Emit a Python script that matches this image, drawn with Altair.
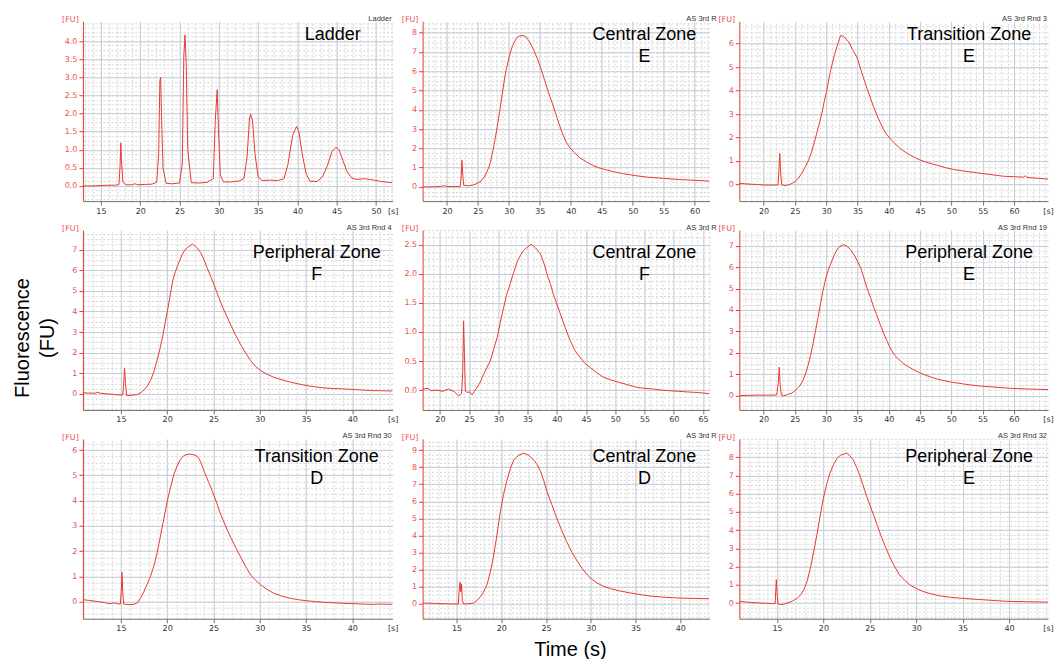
import math
import altair as alt
import pandas as pd

# ---------------- data (time [s], fluorescence [FU]) ----------------
LADDER = [(12.7, 0.0), (14.0, 0.0), (15.0, 0.01), (16.0, 0.02), (17.0, 0.02), (17.3, 0.04), (17.45, 0.6),
          (17.53, 1.19), (17.62, 0.7), (17.8, 0.1), (18.2, 0.03), (19.0, 0.03), (19.3, 0.06), (19.7, 0.03),
          (20.5, 0.04), (21.5, 0.05), (22.1, 0.1), (22.35, 0.9), (22.5, 2.9), (22.6, 3.0), (22.7, 2.0),
          (22.9, 0.5), (23.3, 0.07), (24.0, 0.06), (25.0, 0.08), (25.35, 0.6), (25.55, 3.6), (25.7, 4.17),
          (25.85, 3.4), (26.05, 1.0), (26.5, 0.09), (27.5, 0.08), (28.5, 0.1), (29.3, 0.2), (29.55, 1.8),
          (29.8, 2.66), (29.95, 1.6), (30.2, 0.3), (30.6, 0.11), (31.5, 0.11), (32.5, 0.13), (33.2, 0.2),
          (33.6, 0.8), (33.9, 1.85), (34.05, 1.98), (34.3, 1.8), (34.6, 0.9), (35.0, 0.25), (35.5, 0.15),
          (36.5, 0.16), (37.5, 0.15), (38.3, 0.2), (38.8, 0.6), (39.4, 1.4), (39.9, 1.65), (40.2, 1.5),
          (40.6, 0.9), (41.1, 0.35), (41.6, 0.13), (42.5, 0.12), (43.2, 0.25), (43.8, 0.55), (44.4, 0.95),
          (44.9, 1.07), (45.3, 1.0), (45.8, 0.7), (46.3, 0.4), (46.9, 0.22), (47.5, 0.18), (48.5, 0.2),
          (49.5, 0.17), (50.5, 0.13), (51.5, 0.1), (52.1, 0.09)]

CENTRAL_E = [(16.06, 0.0), (17.0, 0.0), (18.0, 0.01), (19.0, 0.02), (19.5, 0.06), (20.0, 0.02), (21.0, 0.02),
             (22.15, 0.02), (22.3, 0.6), (22.42, 1.38), (22.55, 0.6), (22.7, 0.08), (23.5, 0.05), (24.3, 0.1),
             (25.0, 0.2), (25.5, 0.3), (26.0, 0.5), (26.5, 0.8), (27.0, 1.25), (27.5, 2.0), (28.0, 2.9),
             (28.5, 3.9), (29.0, 5.0), (29.5, 6.0), (30.0, 6.7), (30.5, 7.25), (31.0, 7.6), (31.5, 7.8),
             (32.1, 7.86), (32.7, 7.8), (33.3, 7.55), (34.0, 7.1), (34.6, 6.65), (35.1, 6.2), (35.8, 5.5),
             (36.4, 4.9), (37.0, 4.35), (37.8, 3.55), (38.6, 2.8), (39.2, 2.35), (39.8, 2.05), (40.5, 1.8),
             (41.5, 1.5), (42.5, 1.3), (43.5, 1.12), (44.5, 0.99), (45.5, 0.9), (47.0, 0.78), (48.5, 0.68),
             (50.5, 0.58), (52.5, 0.5), (55.0, 0.44), (57.5, 0.38), (60.0, 0.34), (62.37, 0.3)]

TRANSITION_E = [(16.12, 0.05), (17.0, 0.03), (18.0, 0.01), (19.0, 0.0), (20.0, -0.02), (21.0, -0.03),
                (22.3, -0.02), (22.45, 0.6), (22.58, 1.32), (22.72, 0.5), (22.9, -0.02), (23.5, -0.05),
                (24.2, 0.0), (25.0, 0.11), (25.5, 0.25), (26.1, 0.47), (26.6, 0.72), (27.2, 1.04), (27.7, 1.42),
                (28.2, 1.89), (28.8, 2.5), (29.3, 3.02), (29.7, 3.55), (30.1, 4.01), (30.5, 4.6), (30.9, 5.08),
                (31.3, 5.5), (31.7, 5.86), (32.3, 6.35), (32.8, 6.3), (33.6, 6.07), (34.2, 5.75), (34.9, 5.43),
                (35.4, 5.0), (35.9, 4.58), (36.5, 4.1), (37.0, 3.73), (37.5, 3.35), (38.1, 2.95), (38.6, 2.65),
                (39.1, 2.38), (39.6, 2.15), (40.2, 1.96), (41.0, 1.73), (41.8, 1.53), (42.6, 1.38), (43.4, 1.25),
                (44.2, 1.14), (45.0, 1.04), (46.3, 0.92), (47.7, 0.82), (49.0, 0.72), (50.3, 0.64), (52.0, 0.57),
                (54.0, 0.5), (56.0, 0.43), (58.3, 0.35), (60.0, 0.33), (61.5, 0.31), (61.8, 0.37), (62.1, 0.3),
                (63.5, 0.27), (65.42, 0.23)]

PERIPHERAL_F = [(10.9, 0.05), (11.5, 0.04), (12.2, 0.03), (12.5, 0.08), (12.8, 0.03), (13.5, 0.0), (14.6, -0.05),
                (15.2, -0.05), (15.32, 0.6), (15.4, 1.24), (15.5, 0.5), (15.62, -0.08), (16.2, -0.07),
                (16.8, -0.03), (17.2, 0.08), (17.5, 0.19), (17.85, 0.38), (18.2, 0.65), (18.55, 1.05),
                (18.9, 1.62), (19.2, 2.15), (19.5, 2.75), (19.8, 3.5), (20.1, 4.2), (20.35, 4.85), (20.6, 5.5),
                (20.9, 5.95), (21.2, 6.3), (21.55, 6.7), (21.9, 6.98), (22.3, 7.15), (22.73, 7.27), (23.1, 7.15),
                (23.6, 6.87), (23.95, 6.55), (24.3, 6.14), (24.7, 5.7), (25.1, 5.25), (25.55, 4.7), (26.0, 4.2),
                (26.45, 3.75), (26.9, 3.31), (27.4, 2.85), (27.9, 2.42), (28.45, 2.0), (29.0, 1.62), (29.5, 1.35),
                (30.1, 1.13), (30.8, 0.95), (31.5, 0.81), (32.4, 0.68), (33.3, 0.57), (34.2, 0.48), (35.1, 0.4),
                (36.0, 0.34), (36.9, 0.29), (38.0, 0.26), (39.1, 0.24), (40.5, 0.2), (42.0, 0.16), (44.35, 0.14)]

CENTRAL_F = [(17.04, 0.02), (18.0, 0.03), (18.5, -0.01), (19.5, 0.0), (20.5, -0.02), (21.5, 0.02), (22.5, -0.03),
             (23.2, -0.1), (23.7, -0.06), (23.9, 0.3), (24.05, 1.19), (24.2, 0.6), (24.35, -0.02), (24.7, -0.04),
             (25.1, -0.03), (25.5, -0.08), (26.0, 0.0), (26.4, 0.05), (27.0, 0.16), (27.5, 0.28), (28.0, 0.38),
             (28.6, 0.5), (29.2, 0.7), (29.8, 0.91), (30.3, 1.15), (30.9, 1.42), (31.4, 1.63), (32.0, 1.82),
             (32.6, 2.02), (33.2, 2.2), (33.8, 2.32), (34.3, 2.4), (35.0, 2.46), (35.6, 2.51), (36.3, 2.45),
             (37.2, 2.34), (37.8, 2.18), (38.3, 2.0), (38.9, 1.82), (39.4, 1.65), (40.0, 1.48), (40.6, 1.31),
             (41.4, 1.08), (42.3, 0.85), (43.1, 0.68), (44.0, 0.56), (44.8, 0.46), (45.7, 0.39), (46.8, 0.3),
             (48.0, 0.22), (49.4, 0.17), (50.8, 0.13), (52.2, 0.09), (53.6, 0.05), (55.0, 0.03), (56.5, 0.02),
             (58.0, 0.0), (59.3, -0.01), (60.8, -0.02), (62.2, -0.03), (64.0, -0.04), (66.08, -0.06)]

PERIPHERAL_E = [(16.11, 0.0), (17.5, 0.01), (19.0, 0.02), (20.5, 0.02), (22.1, 0.03), (22.35, 0.6), (22.5, 1.32),
                (22.65, 0.5), (22.85, 0.02), (23.2, 0.0), (23.8, 0.04), (24.5, 0.12), (25.0, 0.22), (25.6, 0.39),
                (26.2, 0.65), (26.7, 1.01), (27.1, 1.4), (27.5, 1.87), (27.9, 2.42), (28.3, 3.03), (28.7, 3.65),
                (29.1, 4.28), (29.5, 4.9), (29.9, 5.44), (30.3, 5.84), (30.7, 6.14), (31.2, 6.5), (31.7, 6.8),
                (32.2, 6.97), (32.8, 7.05), (33.3, 6.98), (33.9, 6.82), (34.4, 6.61), (34.9, 6.33), (35.5, 5.99),
                (36.0, 5.52), (36.5, 5.05), (37.1, 4.57), (37.6, 4.12), (38.2, 3.68), (38.7, 3.27), (39.2, 2.9),
                (39.7, 2.57), (40.2, 2.24), (40.8, 1.94), (41.6, 1.68), (42.4, 1.48), (43.2, 1.33), (44.0, 1.2),
                (45.0, 1.06), (46.1, 0.93), (47.4, 0.8), (48.8, 0.7), (50.4, 0.61), (52.0, 0.54), (53.8, 0.47),
                (55.7, 0.42), (57.6, 0.38), (59.5, 0.34), (62.0, 0.31), (65.45, 0.28)]

TRANSITION_D = [(10.9, 0.07), (11.5, 0.05), (12.5, 0.0), (13.2, -0.04), (13.9, -0.09), (14.2, -0.05), (14.5, -0.08),
                (14.95, -0.1), (15.05, 0.5), (15.12, 1.16), (15.2, 0.4), (15.3, -0.1), (15.5, -0.11), (16.0, -0.12),
                (16.4, -0.11), (16.8, -0.05), (17.1, 0.13), (17.45, 0.36), (17.8, 0.66), (18.2, 1.0), (18.6, 1.45),
                (18.95, 2.0), (19.3, 2.64), (19.65, 3.3), (20.0, 3.96), (20.35, 4.5), (20.7, 5.01), (21.05, 5.35),
                (21.4, 5.61), (21.8, 5.78), (22.35, 5.84), (22.8, 5.82), (23.3, 5.74), (23.65, 5.5), (24.0, 5.15),
                (24.45, 4.75), (24.9, 4.35), (25.35, 3.9), (25.8, 3.43), (26.35, 2.95), (26.9, 2.51), (27.45, 2.1),
                (28.0, 1.72), (28.5, 1.37), (29.0, 1.06), (29.55, 0.84), (30.1, 0.66), (30.8, 0.48), (31.5, 0.33),
                (32.4, 0.21), (33.3, 0.13), (34.2, 0.07), (35.1, 0.03), (36.0, 0.0), (36.9, -0.03), (38.0, -0.05),
                (39.0, -0.07), (40.5, -0.09), (41.9, -0.11), (43.0, -0.1), (44.35, -0.11)]

CENTRAL_D = [(11.21, 0.04), (12.5, 0.02), (13.5, 0.0), (14.5, -0.01), (15.2, -0.02), (15.3, 0.8), (15.4, 1.27),
             (15.48, 0.7), (15.55, 1.15), (15.65, 0.2), (15.8, -0.02), (16.3, 0.0), (16.9, 0.04), (17.3, 0.2),
             (17.7, 0.43), (18.05, 0.72), (18.4, 1.11), (18.75, 1.8), (19.1, 2.68), (19.5, 3.98), (19.9, 5.41),
             (20.25, 6.4), (20.6, 7.17), (21.0, 7.9), (21.4, 8.44), (21.95, 8.7), (22.5, 8.83), (23.05, 8.7),
             (23.6, 8.44), (24.0, 8.15), (24.4, 7.75), (24.75, 7.2), (25.1, 6.58), (25.65, 5.8), (26.2, 5.02),
             (26.75, 4.3), (27.3, 3.65), (27.9, 3.0), (28.5, 2.48), (29.05, 2.05), (29.6, 1.7), (30.15, 1.42),
             (30.7, 1.21), (31.4, 1.03), (32.2, 0.88), (33.3, 0.74), (34.4, 0.63), (35.7, 0.52), (37.0, 0.43),
             (38.5, 0.37), (40.0, 0.33), (41.5, 0.31), (43.24, 0.29)]

PERIPHERAL_E2 = [(10.94, 0.09), (12.0, 0.04), (13.2, 0.0), (14.0, -0.02), (14.6, -0.04), (14.8, -0.03), (14.87, 0.7),
                 (14.93, 1.28), (15.0, 0.6), (15.1, -0.05), (15.4, -0.09), (15.75, -0.06), (16.1, 0.0), (16.65, 0.1),
                 (17.2, 0.27), (17.55, 0.45), (17.9, 0.73), (18.25, 1.2), (18.6, 1.92), (18.95, 2.8), (19.3, 3.74),
                 (19.65, 4.78), (20.0, 5.75), (20.35, 6.5), (20.7, 7.12), (21.1, 7.6), (21.5, 7.95), (21.85, 8.1),
                 (22.2, 8.16), (22.5, 8.22), (22.85, 8.08), (23.2, 7.85), (23.55, 7.48), (23.9, 7.03), (24.25, 6.5),
                 (24.6, 5.94), (25.0, 5.38), (25.4, 4.84), (25.85, 4.2), (26.3, 3.56), (26.75, 3.0), (27.2, 2.47),
                 (27.7, 1.98), (28.2, 1.55), (28.75, 1.25), (29.3, 1.0), (30.0, 0.8), (30.7, 0.64), (31.6, 0.5),
                 (32.5, 0.4), (33.6, 0.32), (34.7, 0.27), (36.0, 0.22), (37.2, 0.18), (38.6, 0.13), (40.0, 0.09),
                 (42.0, 0.07), (44.2, 0.05)]

LABELS = ["Ladder", "Central Zone\nE", "Transition Zone\nE",
          "Peripheral Zone\nF", "Central Zone\nF", "Peripheral Zone\nE",
          "Transition Zone\nD", "Central Zone\nD", "Peripheral Zone\nE"]
TAGS = ["Ladder", "AS 3rd R", "AS 3rd Rnd 3",
        "AS 3rd Rnd 4", "AS 3rd R", "AS 3rd Rnd 19",
        "AS 3rd Rnd 30", "AS 3rd R", "AS 3rd Rnd 32"]

X_TICKS = [[15, 20, 25, 30, 35, 40, 45, 50], [20, 25, 30, 35, 40, 45, 50, 55, 60], [20, 25, 30, 35, 40, 45, 50, 55, 60],
           [15, 20, 25, 30, 35, 40], [20, 25, 30, 35, 40, 45, 50, 55, 60, 65], [20, 25, 30, 35, 40, 45, 50, 55, 60],
           [15, 20, 25, 30, 35, 40], [15, 20, 25, 30, 35, 40], [15, 20, 25, 30, 35, 40]]
Y_TICKS = [[0, 0.5, 1, 1.5, 2, 2.5, 3, 3.5, 4], [0, 1, 2, 3, 4, 5, 6, 7, 8], [0, 1, 2, 3, 4, 5, 6],
           [0, 1, 2, 3, 4, 5, 6, 7], [0, 0.5, 1, 1.5, 2, 2.5], [0, 1, 2, 3, 4, 5, 6, 7],
           [0, 1, 2, 3, 4, 5, 6], [0, 1, 2, 3, 4, 5, 6, 7, 8, 9], [0, 1, 2, 3, 4, 5, 6, 7, 8]]

# ---------------- layout / style ----------------
SERIES = [LADDER, CENTRAL_E, TRANSITION_E, PERIPHERAL_F, CENTRAL_F, PERIPHERAL_E, TRANSITION_D, CENTRAL_D, PERIPHERAL_E2]
X_DOMAINS = [[12.71, 52.12], [16.06, 62.37], [16.12, 65.42],
             [10.90, 44.35], [17.04, 66.08], [16.12, 65.45],
             [10.90, 44.35], [11.21, 43.24], [10.94, 44.2]]
Y_DOMAINS = [[-0.42, 4.55], [-0.74, 8.59], [-0.71, 6.95],
             [-0.78, 7.95], [-0.34, 2.75], [-0.67, 7.73],
             [-0.68, 6.44], [-0.88, 9.66], [-0.86, 9.0]]
WIDTHS = [310, 287, 309]
HEIGHT = 180
LABEL_CX = [234, 222, 230]
LABEL_CY = [14, 23, 18]

RED = "#e8392f"
RED_TXT = "#ee5050"
GRID_MAJOR = "#c6ccda"
GRID_MINOR = "#d6d6d6"
AXIS_GRAY = "#707070"
TICK_FONT = "DejaVu Sans"
TEXT_FONT = "Liberation Sans"


def steps(dom, step):
    a = math.ceil(dom[0] / step - 1e-9)
    b = math.floor(dom[1] / step + 1e-9)
    return [round(k * step, 6) for k in range(a, b + 1)]


def make_panel(i):
    row, col = divmod(i, 3)
    w = WIDTHS[col]
    df = pd.DataFrame(SERIES[i], columns=["t", "fu"])
    xs = alt.Scale(domain=X_DOMAINS[i], nice=False, zero=False)
    ys = alt.Scale(domain=Y_DOMAINS[i], nice=False, zero=False)
    ystep = Y_TICKS[i][1] - Y_TICKS[i][0]
    fmt = ".1f" if ystep < 1 else "d"

    minor_x = alt.Axis(values=steps(X_DOMAINS[i], 1.0), grid=True, gridColor=GRID_MINOR, gridDash=[2, 2],
                       labels=False, ticks=False, domain=False, title=None, orient="top")
    minor_y = alt.Axis(values=steps(Y_DOMAINS[i], ystep / 4), grid=True, gridColor=GRID_MINOR, gridDash=[2, 2],
                       labels=False, ticks=False, domain=False, title=None, orient="right")

    if col != 1:
        x_title_kw = dict(title="[s]", titleX=w, titleY=6, titleAlign="center", titleBaseline="top",
                          titleFont=TICK_FONT, titleFontSize=8, titleFontWeight="normal", titleColor="#333333")
    else:
        x_title_kw = dict(title=None)
    major_x = alt.Axis(values=X_TICKS[i], grid=True, gridColor=GRID_MAJOR, gridWidth=1,
                       domainColor=AXIS_GRAY, tickColor=AXIS_GRAY, tickSize=4, labelPadding=2,
                       labelFont=TICK_FONT, labelFontSize=8, labelColor="#333333", labelFlush=False,
                       orient="bottom", **x_title_kw)
    major_y = alt.Axis(values=Y_TICKS[i], format=fmt, grid=True, gridColor=GRID_MAJOR, gridWidth=1,
                       domainColor=RED, tickColor=RED, tickSize=4, labelPadding=2,
                       labelFont=TICK_FONT, labelFontSize=8, labelColor=RED_TXT, labelFlush=False,
                       title="[FU]", titleAngle=0, titleX=-13, titleY=-1.5, titleAlign="center",
                       titleBaseline="middle", titleFont=TICK_FONT, titleFontSize=8,
                       titleFontWeight="normal", titleColor=RED_TXT, orient="left")

    base = alt.Chart(df)
    grid_layer = base.mark_line(opacity=0).encode(
        x=alt.X("t:Q", scale=xs, axis=minor_x), y=alt.Y("fu:Q", scale=ys, axis=minor_y))
    trace = base.mark_line(color=RED, strokeWidth=1, clip=True).encode(
        x=alt.X("t:Q", scale=xs, axis=major_x), y=alt.Y("fu:Q", scale=ys, axis=major_y))

    cx = 250 if i == 0 else LABEL_CX[col]
    cy = LABEL_CY[row]
    label = alt.Chart(pd.DataFrame({"s": [LABELS[i]]})).mark_text(
        font=TEXT_FONT, fontSize=18, lineBreak="\n", lineHeight=22, align="center",
        baseline="middle", color="black").encode(x=alt.value(cx), y=alt.value(cy), text="s:N")

    if col == 1:
        tag = alt.Chart(pd.DataFrame({"s": [TAGS[i]]})).mark_text(
            font=TEXT_FONT, fontSize=7.5, align="left", baseline="middle", color="#333333").encode(
            x=alt.value(w - 23), y=alt.value(-2.5), text="s:N")
    else:
        tag = alt.Chart(pd.DataFrame({"s": [TAGS[i]]})).mark_text(
            font=TEXT_FONT, fontSize=7.5, align="right", baseline="middle", color="#333333").encode(
            x=alt.value(w - 1), y=alt.value(-2.5), text="s:N")

    layers = [grid_layer, trace, label, tag]
    if i == 3:
        layers.append(alt.Chart(pd.DataFrame({"s": ["Fluorescence\n(FU)"]})).mark_text(
            font=TEXT_FONT, fontSize=20, lineBreak="\n", lineHeight=25, align="center",
            baseline="middle", angle=270, color="black").encode(
            x=alt.value(-60), y=alt.value(108), text="s:N"))
    if i == 7:
        layers.append(alt.Chart(pd.DataFrame({"s": ["Time (s)"]})).mark_text(
            font=TEXT_FONT, fontSize=20, align="center", baseline="middle", color="black").encode(
            x=alt.value(148), y=alt.value(211), text="s:N"))

    return alt.layer(*layers).resolve_axis(x="independent", y="independent").properties(
        width=w, height=HEIGHT)


panels = [make_panel(i) for i in range(9)]
chart = alt.concat(*panels, columns=3, spacing={"row": 29, "column": 30}, bounds="flush",
                   align="each").configure_view(stroke=None).properties(
    padding={"left": 13, "top": 14, "right": 0, "bottom": 0})

chart.save("out.html", embed_options={"renderer": "svg", "actions": False})
